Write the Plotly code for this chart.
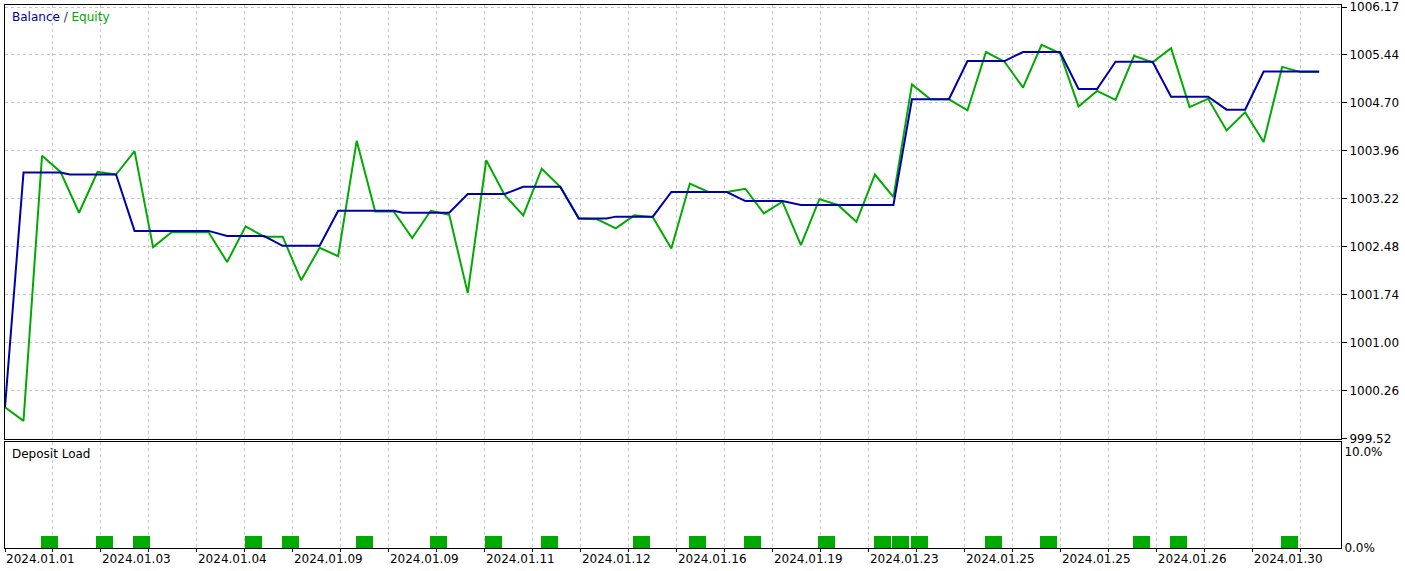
import plotly.graph_objects as go

# ---------------- data ----------------
# equity sampled at every deal (deal index 0..71)
equity = [1000.00, 999.79, 1003.88, 1003.63, 1003.00, 1003.63, 1003.59, 1003.95,
          1002.47, 1002.70, 1002.70, 1002.70, 1002.24, 1002.79, 1002.63, 1002.63,
          1001.96, 1002.46, 1002.33, 1004.11, 1003.02, 1003.02, 1002.61, 1003.03,
          1002.97, 1001.76, 1003.81, 1003.27, 1002.96, 1003.68, 1003.40, 1002.91,
          1002.90, 1002.76, 1002.96, 1002.93, 1002.45, 1003.45, 1003.32, 1003.32,
          1003.37, 1002.99, 1003.17, 1002.50, 1003.21, 1003.12, 1002.86, 1003.59,
          1003.24, 1004.98, 1004.75, 1004.75, 1004.58, 1005.48, 1005.33, 1004.93,
          1005.59, 1005.46, 1004.64, 1004.88, 1004.74, 1005.42, 1005.32, 1005.54,
          1004.63, 1004.76, 1004.27, 1004.55, 1004.09, 1005.25, 1005.17, 1005.17]
equity_deal = list(range(len(equity)))

# balance vertices (deal index, value)
balance_deal = [0, 1, 3, 3.5, 6, 7, 11, 12, 14, 15, 17, 18, 21, 21.5, 24, 25, 27, 28,
                30, 31, 32.5, 33, 35, 36, 39, 40, 42, 43, 48, 49, 51, 52, 54, 55, 57,
                58, 59, 60, 62, 63, 65, 66, 67, 68, 71]
balance = [1000.00, 1003.62, 1003.62, 1003.59, 1003.59, 1002.72, 1002.72, 1002.64,
           1002.64, 1002.49, 1002.49, 1003.03, 1003.03, 1003.00, 1003.00, 1003.29,
           1003.29, 1003.40, 1003.40, 1002.91, 1002.91, 1002.94, 1002.94, 1003.32,
           1003.32, 1003.18, 1003.18, 1003.12, 1003.12, 1004.75, 1004.75, 1005.34,
           1005.34, 1005.48, 1005.48, 1004.91, 1004.91, 1005.33, 1005.33, 1004.79,
           1004.79, 1004.59, 1004.59, 1005.18, 1005.18]

# deposit load (%) at deals
load_deal = [2, 5, 7, 13, 15, 19, 23, 26, 29, 34, 37, 40, 44, 47, 48, 49, 53, 56, 61, 63, 69]
load_value = [1.27, 1.27, 1.27, 1.27, 1.27, 1.27, 1.27, 1.27, 1.27, 1.27, 1.27,
              1.27, 1.27, 1.27, 1.27, 1.27, 1.27, 1.27, 1.27, 1.27, 1.27]

# axis labels
date_labels = ["2024.01.01", "2024.01.03", "2024.01.04", "2024.01.09", "2024.01.09",
               "2024.01.11", "2024.01.12", "2024.01.16", "2024.01.19", "2024.01.23",
               "2024.01.25", "2024.01.25", "2024.01.26", "2024.01.30"]
y_ticks = [999.52, 1000.26, 1001.00, 1001.74, 1002.48, 1003.22, 1003.96, 1004.70,
           1005.44, 1006.17]
load_ticks = [0, 10]
load_ticktext = ["0.0%", "10.0%"]

# ---------------- styling ----------------
BLUE = "#0000aa"
GREEN = "#00aa00"
GRID = "#c8c8c8"
FONT = "DejaVu Sans"
GRID_STEP = 2.593  # deals per vertical grid cell
X_MAX = 72.18

grid_vals = [i * GRID_STEP for i in range(2 * len(date_labels))]
grid_text = []
for lab in date_labels:
    grid_text += [lab, ""]

fig = go.Figure()
fig.add_trace(go.Scatter(x=equity_deal, y=equity, mode="lines",
                         line=dict(color=GREEN, width=2), xaxis="x", yaxis="y"))
fig.add_trace(go.Scatter(x=balance_deal, y=balance, mode="lines",
                         line=dict(color=BLUE, width=2), xaxis="x", yaxis="y"))
fig.add_trace(go.Bar(x=load_deal, y=load_value, width=0.92, offset=-0.06,
                     marker=dict(color=GREEN, line=dict(width=0)),
                     xaxis="x2", yaxis="y2"))

common_x = dict(range=[0, X_MAX], tickvals=grid_vals, showgrid=True, gridcolor=GRID,
                griddash="3px,3px", gridwidth=1, zeroline=False, showline=True,
                mirror=True, linecolor="black", linewidth=1, automargin=False)

fig.update_layout(
    width=1405, height=571,
    margin=dict(l=5, r=64, t=5, b=23, pad=0),
    paper_bgcolor="white", plot_bgcolor="white",
    showlegend=False,
    font=dict(family=FONT, size=12, color="black"),
    bargap=0,
    xaxis=dict(domain=[0, 1], anchor="y", showticklabels=False, ticks="", **common_x),
    xaxis2=dict(domain=[0, 1], anchor="y2", ticktext=grid_text, ticks="outside",
                ticklen=3, tickcolor="black", ticklabelposition="outside right",
                tickfont=dict(family=FONT, size=12, color="black"), **common_x),
    yaxis=dict(domain=[0.2002, 1], anchor="x", side="right",
               range=[999.505, 1006.205], tickvals=y_ticks,
               ticktext=[f"{v:.2f}" for v in y_ticks],
               ticks="outside", ticklen=5, tickcolor="black",
               showgrid=True, gridcolor=GRID, griddash="3px,3px", zeroline=False,
               showline=True, mirror=True, linecolor="black", linewidth=1,
               automargin=False,
               tickfont=dict(family=FONT, size=12, color="black")),
    yaxis2=dict(domain=[0, 0.1958], anchor="x2", side="right", range=[0, 11],
                tickvals=load_ticks, ticktext=load_ticktext, ticks="",
                showgrid=False, zeroline=False, showline=True, mirror=True,
                linecolor="black", linewidth=1, automargin=False,
                tickfont=dict(family=FONT, size=12, color="black")),
    annotations=[
        dict(text=f'<span style="color:{BLUE}">Balance</span> / '
                  f'<span style="color:{GREEN}">Equity</span>',
             xref="paper", yref="paper", x=0.0037, y=0.978,
             xanchor="left", yanchor="middle", showarrow=False,
             font=dict(family=FONT, size=12, color="#333333")),
        dict(text="Deposit Load", xref="paper", yref="paper", x=0.0037, y=0.173,
             xanchor="left", yanchor="middle", showarrow=False,
             font=dict(family=FONT, size=12, color="black")),
    ],
)

fig.write_html("out.html",
               config={"displayModeBar": False},
               post_script="document.body.style.margin='0';"
                           "document.body.style.padding='0';"
                           "document.body.style.overflow='hidden';")
